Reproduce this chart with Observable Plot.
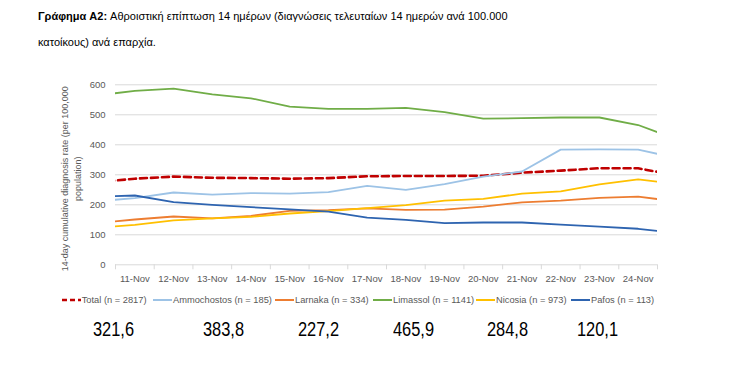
<!DOCTYPE html>
<html><head><meta charset="utf-8">
<script src="https://cdn.jsdelivr.net/npm/d3@7"></script>
<script src="https://cdn.jsdelivr.net/npm/@observablehq/plot@0.6"></script>
<style>
body{margin:0;background:#fff;width:736px;height:389px;position:relative;overflow:hidden;font-family:"Liberation Sans",Arial,sans-serif}
#title{position:absolute;left:38px;top:3px;width:419px;font-family:"Liberation Sans",Arial,sans-serif;font-size:11px;color:#000;line-height:26px}
#title .l1{display:block;text-align:justify;text-align-last:justify;white-space:nowrap}
#chart{position:absolute;left:0;top:62px}
.leg{position:absolute;top:294px;height:12px;display:flex;align-items:center;font-size:9.3px;color:#595959;white-space:nowrap}
.leg svg{margin-right:1px}
.num{position:absolute;top:318px;font-family:"Liberation Sans",Arial,sans-serif;font-size:20px;color:#000;transform:scaleX(0.82);transform-origin:0 50%}
</style></head>
<body>
<div id="title"><span class="l1"><b>Γράφημα A2:</b> Αθροιστική επίπτωση 14 ημέρων (διαγνώσεις τελευταίων 14 ημερών ανά 100.000</span>κατοίκους) ανά επαρχία.</div>
<div id="chart"></div>
<script>
const dates = ["10-Nov","11-Nov","12-Nov","13-Nov","14-Nov","15-Nov","16-Nov","17-Nov","18-Nov","19-Nov","20-Nov","21-Nov","22-Nov","23-Nov","24-Nov","25-Nov"];
const shownDates = ["11-Nov","12-Nov","13-Nov","14-Nov","15-Nov","16-Nov","17-Nov","18-Nov","19-Nov","20-Nov","21-Nov","22-Nov","23-Nov","24-Nov"];
const seriesNames = ["Total (n = 2817)","Ammochostos (n = 185)","Larnaka (n = 334)","Limassol (n = 1141)","Nicosia (n = 973)","Pafos (n = 113)"];
const totalValues = [275,287,294,290,289,287,289,295,296,296,297,307,314,322,321.6,298];
const ammochostosValues = [212,222,241,234,239,237,242,263,250,269,294,311,384,385,383.8,356];
const larnakaValues = [139,151,161,155,163,180,182,188,183,184,194,208,214,223,227.2,211];
const limassolValues = [564,580,587,568,555,527,520,520,523,509,487,489,491,491,465.9,418];
const nicosiaValues = [123,133,148,155,160,171,179,189,199,214,220,237,245,268,284.8,269];
const pafosValues = [227,231,209,200,192,185,177,157,150,139,141,141,134,127,120.1,106];
const yTicks = [0,100,200,300,400,500,600];
const yLabel = "14-day cumulative diagnosis rate (per 100,000\npopulation)";

const colors = ["#C00000","#9DC3E6","#ED7D31","#70AD47","#FFC000","#2E64B0"];
const widths = [2.6,1.8,1.8,1.8,1.8,1.8];
const allValues = [totalValues,ammochostosValues,larnakaValues,limassolValues,nicosiaValues,pafosValues];
const dayNum = d => +d.split("-")[0];

const rows = [];
seriesNames.forEach((name, s) => dates.forEach((d, i) => rows.push({series: name, s, day: dayNum(d), value: allValues[s][i]})));
const shownDays = shownDates.map(dayNum);
const bounds = shownDays.map(d => d - 0.5).concat([shownDays[shownDays.length-1] + 0.5]);

const lineMarks = seriesNames.map((name, s) => Plot.lineY(rows.filter(r => r.s === s), {
  x: "day", y: "value", stroke: colors[s], strokeWidth: widths[s],
  strokeDasharray: s === 0 ? "7,4" : null, clip: true, curve: "linear"
}));

const chart = Plot.plot({
  width: 736, height: 232,
  marginLeft: 115, marginRight: 79, marginTop: 22.3, marginBottom: 29.7,
  style: {fontFamily: '"Liberation Sans", Arial, sans-serif', background: "transparent", overflow: "visible"},
  x: {type: "linear", domain: [bounds[0], bounds[bounds.length-1]]},
  y: {domain: [0, 600]},
  marks: [
    Plot.gridY(yTicks.filter(t => t > 0), {stroke: "#d9d9d9", strokeOpacity: 1, strokeWidth: 1}),
    Plot.ruleY([0], {stroke: "#d9d9d9", strokeWidth: 1}),
    Plot.axisX({ticks: bounds, tickSize: 5, tickFormat: () => "", stroke: "#d9d9d9", strokeOpacity: 1, label: null}),
    Plot.axisX({ticks: shownDays, tickSize: 0, tickPadding: 10, tickFormat: d => d + "-Nov", fontSize: 9.5, fill: "#595959", label: null}),
    Plot.axisY({ticks: yTicks, tickSize: 0, tickPadding: 10, fontSize: 9.5, fill: "#595959", label: null}),
    Plot.text([yLabel], {frameAnchor: "left", textAnchor: "middle", lineAnchor: "middle", dx: -45, dy: 4, rotate: -90, fontSize: 9, fill: "#595959", lineHeight: 1.45}),
    ...lineMarks
  ]
});
document.getElementById("chart").appendChild(chart);

// legend
const legX = [61.7, 153, 275, 373, 476, 571];
seriesNames.forEach((name, s) => {
  const div = document.createElement("div");
  div.className = "leg";
  div.style.left = legX[s] + "px";
  const dash = s === 0 ? 'stroke-dasharray="5,3"' : '';
  div.innerHTML = `<svg width="19" height="6"><line x1="0" y1="3" x2="19" y2="3" stroke="${colors[s]}" stroke-width="${s===0?2.6:2}" ${dash}/></svg><span>${name}</span>`;
  document.body.appendChild(div);
});
// last-day values below
const numX = [92.6, 203, 297.6, 392.7, 487, 576.6];
const lastIdx = dates.indexOf(shownDates[shownDates.length-1]);
allValues.forEach((vals, s) => {
  const div = document.createElement("div");
  div.className = "num";
  div.style.left = numX[s] + "px";
  div.textContent = vals[lastIdx].toFixed(1).replace(".", ",");
  document.body.appendChild(div);
});
</script>
</body></html>
